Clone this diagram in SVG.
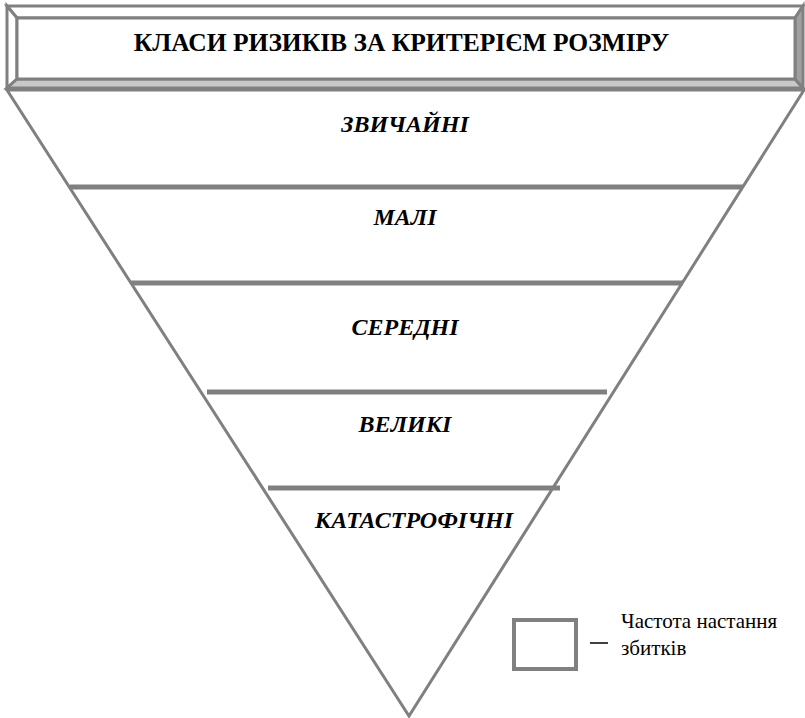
<svg xmlns="http://www.w3.org/2000/svg" width="805" height="718" viewBox="0 0 805 718">
<style>
svg text{font-family:'Liberation Serif',serif !important;fill:#000}
.edge{fill:none;stroke:#808080;stroke-width:3}
.band{stroke:#808080;stroke-width:5}
</style>
<rect width="805" height="718" fill="#fff"/>
<g id="header" stroke="#808080" stroke-width="3">
<polygon points="7,6 803,6 795,18 17,18" fill="#fff"/>
<polygon points="7,6 17,18 17,79 7,88" fill="#fff"/>
<polygon points="7,88 17,79 795,79 803,88" fill="#c8c8c8"/>
<polygon points="803,6 795,18 795,79 803,88" fill="#a0a0a0"/>
<rect x="17" y="18" width="778" height="61" fill="#fff"/>
</g>
<text id="title" x="401.5" y="51" style="font-family:'Liberation Serif',serif !important" font-weight="bold" font-size="25.5" text-anchor="middle">КЛАСИ РИЗИКІВ ЗА КРИТЕРІЄМ РОЗМІРУ</text>
<g id="pyramid">
<polygon class="edge" points="7,90 804,90 409,716"/>
</g>
<g id="connectors">
<line class="band" x1="70" y1="187" x2="743" y2="187"/>
<line class="band" x1="131" y1="283" x2="683" y2="283"/>
<line class="band" x1="207" y1="392" x2="607" y2="392"/>
<line class="band" x1="268" y1="488" x2="560" y2="488"/>
</g>
<g id="n1"><text x="405" y="132" style="font-family:'Liberation Serif',serif !important" font-weight="bold" font-style="italic" font-size="24" text-anchor="middle">ЗВИЧАЙНІ</text></g>
<g id="n2"><text x="405" y="225" style="font-family:'Liberation Serif',serif !important" font-weight="bold" font-style="italic" font-size="24" text-anchor="middle">МАЛІ</text></g>
<g id="n3"><text x="405" y="335" style="font-family:'Liberation Serif',serif !important" font-weight="bold" font-style="italic" font-size="24" text-anchor="middle">СЕРЕДНІ</text></g>
<g id="n4"><text x="405" y="432" style="font-family:'Liberation Serif',serif !important" font-weight="bold" font-style="italic" font-size="24" text-anchor="middle">ВЕЛИКІ</text></g>
<g id="n5"><text x="414" y="528" style="font-family:'Liberation Serif',serif !important" font-weight="bold" font-style="italic" font-size="24" text-anchor="middle">КАТАСТРОФІЧНІ</text></g>
<g id="legend">
<rect x="514" y="620" width="62" height="49" fill="#fff" stroke="#808080" stroke-width="4"/>
<line x1="590" y1="643" x2="608" y2="643" stroke="#000" stroke-width="1.5"/>
<text x="621" y="628" style="font-family:'Liberation Serif',serif !important" font-size="21">Частота настання</text>
<text x="621" y="655" style="font-family:'Liberation Serif',serif !important" font-size="21">збитків</text>
</g>
</svg>
